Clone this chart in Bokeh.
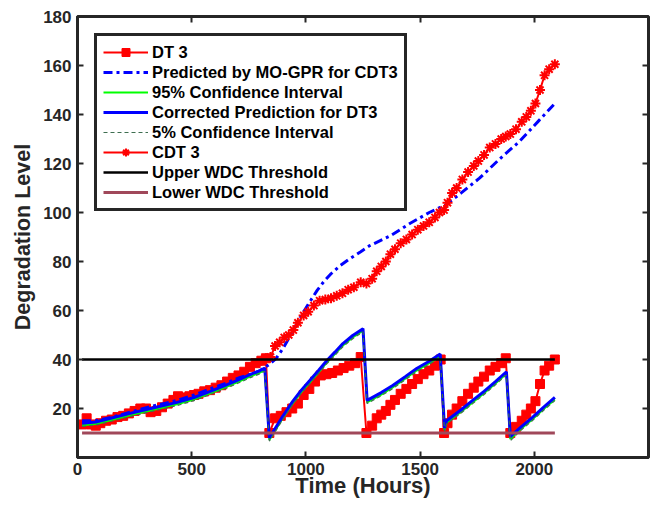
from bokeh.plotting import figure
from bokeh.models import Range1d, FixedTicker, LinearAxis, Legend, LegendItem, CustomJSTickFormatter
from bokeh.embed import file_html
from bokeh.resources import INLINE

# ---- data ----
dt3_t = [20, 40, 60, 80, 100, 125, 150, 175, 200, 225, 250, 275, 300, 320, 345, 370, 395, 420,
         440, 465, 490, 510, 530, 555, 580, 605, 630, 655, 680, 705, 730, 755, 780, 805, 825,
         840, 865, 890, 915, 940, 965, 990, 1015, 1040, 1065, 1090, 1115, 1140, 1165, 1190, 1215, 1240,
         1265, 1290, 1310, 1330, 1350, 1370, 1390, 1415, 1440, 1465, 1490, 1515, 1540, 1565, 1590,
         1605, 1620, 1640, 1660, 1685, 1710, 1735, 1755, 1780, 1805, 1830, 1855, 1875,
         1895, 1920, 1945, 1965, 1985, 2005, 2025, 2045, 2065, 2090]
dt3_y = [13.5, 16, 13.5, 13, 14, 15, 15.5, 16.5, 17, 18, 19, 20, 20, 18.5, 19, 20.5, 22, 23.5,
         25, 24.5, 25, 25.5, 26, 27, 27.5, 28.5, 29.5, 31, 32.5, 33.5, 35, 37, 38.5, 39.5, 40.5,
         10, 16, 17, 18.5, 20, 22, 25.5, 28, 31, 33.5, 34, 34.5, 35.5, 36.5, 37.5, 38.5, 41,
         10, 13, 16, 17.5, 19, 21.5, 23.5, 26, 28, 30, 32, 34, 35.5, 37.5, 40,
         10, 14, 17.5, 20, 23, 26, 28.5, 31, 33, 35.5, 37, 38.5, 40.5,
         10, 12.5, 15, 17.5, 20, 23, 30, 35.5, 37.5, 40]

cdt3_t = [805, 825, 845, 865, 885, 905, 925, 945, 965, 990, 1010, 1035, 1060, 1085, 1110, 1135,
          1160, 1185, 1210, 1240, 1265, 1290, 1310, 1330, 1350, 1370, 1390, 1415, 1440, 1465, 1490,
          1515, 1540, 1565, 1585, 1605, 1620, 1640, 1660, 1685, 1710, 1735, 1755, 1780, 1805, 1830,
          1855, 1875, 1895, 1920, 1945, 1965, 1985, 2005, 2025, 2045, 2065, 2090]
cdt3_y = [39.5, 40.5, 41, 45.5, 47, 49, 50, 52, 55, 58, 59.5, 62, 64, 64.5, 65, 66,
          67, 68.5, 69.5, 71.5, 71, 73, 76, 78, 80, 83, 85, 87.5, 89, 91, 93,
          94.5, 96, 98, 100, 101, 104, 108, 110, 113.5, 116.5, 119, 121, 123.5, 126.5, 128,
          130, 131, 132, 134, 137, 139, 141.5, 144.5, 150, 156, 158.5, 160.5]

pred_t = [20, 80, 145, 230, 320, 436, 510, 581, 650, 712, 760, 800, 840, 870, 900, 930, 960, 990,
          1020, 1050, 1080, 1110, 1150, 1190, 1240, 1280, 1370, 1455, 1540, 1610, 1680, 1760,
          1850, 1935, 2020, 2090]
pred_y = [15, 15, 16.3, 18.5, 20.8, 23.3, 25.5, 28, 30.3, 32.7, 34, 35.5, 38, 40.5, 44.5, 49.5, 54.5, 59.5,
          64, 68.3, 72, 75, 78.3, 81, 84, 86.5, 90.5, 95.5, 100, 103, 108, 114,
          122, 129, 137.5, 144.5]

corr_t = [20, 80, 145, 230, 320, 436, 510, 581, 650, 712, 760, 800, 820,
          840, 900, 943, 980, 1017, 1055, 1092, 1127, 1162, 1205, 1250,
          1268, 1330, 1380, 1435, 1485, 1540, 1588,
          1607, 1616, 1680, 1730, 1780, 1830, 1878,
          1895, 1940, 1991, 2040, 2090]
corr_y = [14, 14.5, 16, 18, 20, 22.5, 24.5, 27, 29.5, 32, 34, 35.5, 36.5,
          8, 17, 23, 27.5, 31.4, 35.5, 39.6, 43, 46.5, 49.8, 52.6,
          23.3, 26.5, 29.4, 33, 36.3, 39.3, 42.2,
          12, 15, 19.5, 23.3, 27, 31, 35,
          8.5, 12.3, 16.3, 20.5, 24.5]
ci95_y = [13.2, 13.7, 15.2, 17.2, 19.2, 21.7, 23.7, 26.2, 28.7, 31.2, 33.2, 34.7, 35.7,
          7.2, 16.2, 22.2, 26.7, 30.6, 34.7, 38.8, 42.2, 45.7, 49, 51.8,
          22.5, 25.7, 28.6, 32.2, 35.5, 38.5, 41.4,
          11.2, 14.2, 18.7, 22.5, 26.2, 30.2, 34.2,
          7.5, 11.5, 15.5, 19.7, 23.7]
ci5_y = [12.7, 13.2, 14.7, 16.7, 18.7, 21.2, 23.2, 25.7, 28.2, 30.7, 32.7, 34.2, 35.2,
         6.7, 15.7, 21.7, 26.2, 30.1, 34.2, 38.3, 41.7, 45.2, 48.5, 51.3,
         22, 25.2, 28.1, 31.7, 35, 38, 40.9,
         10.7, 13.7, 18.2, 22, 25.7, 29.7, 33.7,
         6.8, 11, 15, 19.2, 23.2]

thr_t = [20, 2090]
upper_thr = [40, 40]
lower_thr = [10, 10]

x_ticks = [0, 500, 1000, 1500, 2000]
y_ticks = [20, 40, 60, 80, 100, 120, 140, 160, 180]

FONT = "Liberation Sans"
DARK = "#262626"

p = figure(width=652, height=512, x_range=Range1d(0, 2500), y_range=Range1d(0, 180),
           output_backend="svg", toolbar_location=None,
           min_border_left=77, min_border_right=4, min_border_top=16, min_border_bottom=55)
p.xgrid.visible = False
p.ygrid.visible = False
p.outline_line_color = DARK
p.outline_line_width = 3
p.background_fill_color = "white"

for ax, ticks in ((p.xaxis[0], x_ticks), (p.yaxis[0], y_ticks)):
    ax.ticker = FixedTicker(ticks=ticks)
    ax.major_tick_in = 6
    ax.major_tick_out = 0
    ax.minor_tick_line_color = None
    ax.major_tick_line_color = DARK
    ax.major_tick_line_width = 2
    ax.axis_line_color = DARK
    ax.axis_line_width = 3
    ax.major_label_text_font = FONT
    ax.major_label_text_font_style = "bold"
    ax.major_label_text_font_size = "17px"
    ax.major_label_text_color = DARK
    ax.axis_label_text_font = FONT
    ax.axis_label_text_font_style = "bold"
    ax.axis_label_text_color = DARK

p.xaxis.axis_label = "Time (Hours)"
p.yaxis.axis_label = "Degradation Level"
p.xaxis.axis_label_text_font_size = "22px"
p.yaxis.axis_label_text_font_size = "21.5px"
p.xaxis.major_label_standoff = 5
p.xaxis.axis_label_standoff = -5
p.yaxis.major_label_standoff = 6
p.yaxis.axis_label_standoff = 5

blank = CustomJSTickFormatter(code="return '';")
top_ax = LinearAxis(ticker=FixedTicker(ticks=x_ticks), major_tick_in=6, major_tick_out=0,
                    major_tick_line_color=DARK, major_tick_line_width=2,
                    minor_tick_line_color=None, axis_line_color=None,
                    formatter=blank, major_label_standoff=0)
right_ax = LinearAxis(ticker=FixedTicker(ticks=y_ticks), major_tick_in=6, major_tick_out=0,
                      major_tick_line_color=DARK, major_tick_line_width=2,
                      minor_tick_line_color=None, axis_line_color=None,
                      formatter=blank, major_label_standoff=0)
p.add_layout(top_ax, "above")
p.add_layout(right_ax, "right")

RED = "#FF0000"
r_dt3_l = p.line(dt3_t, dt3_y, line_color=RED, line_width=2)
r_dt3_m = p.scatter(dt3_t, dt3_y, marker="square", size=9, fill_color=RED, line_color=RED)
r_pred = p.line(pred_t, pred_y, line_color="#0000FF", line_width=3, line_dash="9 4 3 4")
r_95 = p.line(corr_t, ci95_y, line_color="#00FF00", line_width=2)
r_corr = p.line(corr_t, corr_y, line_color="#0000FF", line_width=3)
r_5 = p.line(corr_t, ci5_y, line_color="#3E6E50", line_width=1.2, line_dash="4 3")
r_cdt3_l = p.line(cdt3_t, cdt3_y, line_color=RED, line_width=2)
r_cdt3_m = p.scatter(cdt3_t, cdt3_y, marker="asterisk", size=10, line_color=RED, line_width=2)
r_up = p.line(thr_t, upper_thr, line_color="#000000", line_width=2.5)
r_lo = p.line(thr_t, lower_thr, line_color="#A0485A", line_width=3)

legend = Legend(items=[
    LegendItem(label="DT 3", renderers=[r_dt3_l, r_dt3_m]),
    LegendItem(label="Predicted by MO-GPR for CDT3", renderers=[r_pred]),
    LegendItem(label="95% Confidence Interval", renderers=[r_95]),
    LegendItem(label="Corrected Prediction for DT3", renderers=[r_corr]),
    LegendItem(label="5% Confidence Interval", renderers=[r_5]),
    LegendItem(label="CDT 3", renderers=[r_cdt3_l, r_cdt3_m]),
    LegendItem(label="Upper WDC Threshold", renderers=[r_up]),
    LegendItem(label="Lower WDC Threshold", renderers=[r_lo]),
], location="top_left")
legend.margin = 17
legend.padding = 6
legend.spacing = 0
legend.glyph_width = 45
legend.glyph_height = 20
legend.label_height = 20
legend.label_standoff = 4
legend.label_text_font = FONT
legend.label_text_font_style = "bold"
legend.label_text_font_size = "16.5px"
legend.label_text_color = "#000000"
legend.border_line_color = DARK
legend.border_line_width = 3
legend.border_line_alpha = 1
legend.background_fill_color = "white"
legend.background_fill_alpha = 1
p.add_layout(legend, "center")

open("out.html", "w").write(file_html(p, INLINE))
